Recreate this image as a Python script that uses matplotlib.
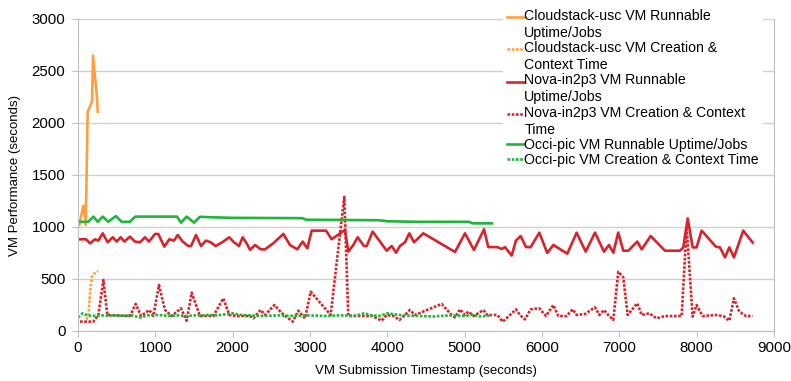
import matplotlib
matplotlib.use("Agg")
import matplotlib.pyplot as plt
from matplotlib.legend_handler import HandlerLine2D

plt.rcParams['font.family'] = ['Liberation Sans', 'DejaVu Sans']

# Cloudstack-usc
cs_run_x = [17, 69, 100, 125, 181, 194, 245, 255]
cs_run_y = [1019, 1205, 1020, 2108, 2205, 2647, 2253, 2108]
cs_cre_x = [110, 135, 160, 181, 205, 235, 262]
cs_cre_y = [110, 150, 400, 522, 550, 565, 577]

# Nova-in2p3
nv_run_x = [26, 103, 155, 220, 263, 319, 384, 449, 500, 552, 599, 672, 737, 802, 866, 918,
            996, 1038, 1116, 1181, 1241, 1289, 1354, 1426, 1461, 1526, 1590, 1655, 1716, 1780,
            1879, 1956, 2017, 2082, 2129, 2181, 2224, 2289, 2362, 2418, 2525, 2655, 2741, 2836,
            2905, 2965, 3022, 3207, 3280, 3378, 3452, 3495, 3560, 3616, 3698, 3733, 3810, 3905,
            3991, 4056, 4112, 4163, 4228, 4284, 4345, 4465, 4875, 5004, 5120, 5250, 5305, 5422,
            5479, 5521, 5608, 5663, 5724, 5793, 5853, 5965, 6068, 6146, 6327, 6448, 6565, 6685,
            6801, 6866, 6922, 6986, 7051, 7116, 7232, 7289, 7405, 7590, 7784, 7827, 7884, 7948,
            7999, 8064, 8249, 8301, 8366, 8422, 8482, 8602, 8724]
nv_run_y = [882, 882, 843, 882, 869, 939, 853, 901, 860, 901, 860, 907, 860, 853, 901, 860,
            933, 933, 811, 882, 869, 923, 860, 817, 817, 923, 817, 869, 853, 817,
            860, 901, 853, 817, 901, 843, 780, 827, 785, 785, 843, 933, 827, 785,
            860, 795, 965, 965, 882, 933, 972, 763, 827, 901, 817, 817, 955, 860,
            772, 817, 753, 817, 853, 939, 853, 939, 760, 939, 779, 978, 807, 807,
            788, 807, 725, 869, 913, 807, 807, 945, 750, 827, 744, 945, 763, 946,
            763, 827, 753, 946, 772, 772, 860, 785, 913, 772, 772, 804, 1083, 804,
            804, 965, 811, 804, 708, 804, 708, 965, 850]
nv_cre_x = [26, 198, 263, 328, 379, 672, 746, 815, 922, 974, 1047, 1125, 1211, 1332, 1405,
            1470, 1577, 1750, 1879, 1956, 2051, 2224, 2267, 2362, 2418, 2539, 2634, 2776, 2849,
            2935, 3009, 3267, 3443, 3495, 3616, 3810, 3926, 3991, 4082, 4155, 4228, 4293, 4357,
            4702, 4832, 4875, 4939, 5004, 5047, 5120, 5241, 5292, 5422, 5491, 5564, 5663, 5715,
            5780, 5853, 5965, 6051, 6146, 6211, 6318, 6396, 6448, 6556, 6685, 6741, 6801, 6857,
            6922, 6986, 7051, 7107, 7232, 7289, 7387, 7483, 7590, 7806, 7870, 7948, 7999, 8077,
            8236, 8344, 8422, 8482, 8551, 8637, 8724]
nv_cre_y = [90, 90, 154, 490, 154, 144, 260, 144, 202, 144, 442, 202, 144, 218, 99,
            368, 144, 144, 314, 154, 144, 144, 122, 202, 154, 250, 173, 90, 195,
            122, 378, 154, 1290, 144, 144, 144, 99, 154, 144, 106, 154, 202, 154,
            260, 154, 131, 208, 154, 186, 144, 202, 154, 154, 90, 138, 208, 154,
            112, 208, 218, 144, 250, 144, 144, 208, 154, 163, 228, 154, 202, 154,
            106, 570, 516, 154, 266, 154, 170, 122, 144, 144, 1000, 138, 250, 144,
            154, 144, 99, 314, 186, 144, 144]

# Occi-pic
oc_run_x = [0, 130, 200, 255, 320, 390, 490, 565, 670, 740, 1280, 1332, 1405, 1500, 1577,
            1750, 2000, 2900, 2950, 3900, 4000, 4400, 5050, 5110, 5350]
oc_run_y = [1050, 1050, 1100, 1050, 1100, 1050, 1105, 1050, 1050, 1100, 1100, 1042, 1100,
            1042, 1098, 1093, 1088, 1085, 1070, 1065, 1055, 1050, 1050, 1035, 1035]
oc_cre_x = [0, 60, 120, 200, 300, 400, 500, 600, 700, 800, 900, 1000, 1100, 1200, 1300,
            1400, 1500, 1600, 1700, 1800, 1900, 2000, 2100, 2200, 2400, 2600, 2800, 3000,
            3200, 3400, 3600, 3700, 3800, 3900, 4000, 4200, 4400, 4600, 4800, 5000, 5100,
            5200, 5350]
oc_cre_y = [130, 170, 150, 145, 150, 148, 150, 145, 150, 130, 150, 155, 150, 145, 150,
            145, 150, 150, 155, 150, 160, 170, 155, 150, 145, 150, 145, 150,
            145, 150, 148, 170, 150, 145, 170, 150, 145, 140, 150, 145, 155,
            140, 150]

labels = ["Cloudstack-usc VM Runnable\nUptime/Jobs",
          "Cloudstack-usc VM Creation &\nContext Time",
          "Nova-in2p3 VM Runnable\nUptime/Jobs",
          "Nova-in2p3 VM Creation & Context\nTime",
          "Occi-pic VM Runnable Uptime/Jobs",
          "Occi-pic VM Creation & Context Time"]

ORANGE = '#ffa040'
RED = '#d8232a'
GREEN = '#1db53a'


class TopHandler(HandlerLine2D):
    """Place the legend handle at the first line of a multi-line label."""
    def __init__(self, nlines, **kw):
        super().__init__(**kw)
        self.nlines = nlines

    def create_artists(self, legend, orig_handle, xdescent, ydescent, width, height,
                       fontsize, trans):
        shift = (self.nlines - 1) * fontsize * 1.12
        return super().create_artists(legend, orig_handle, xdescent, ydescent - shift,
                                      width, height, fontsize, trans)


fig = plt.figure(figsize=(7.91, 3.81), dpi=100)
ax = fig.add_axes([78/791, 1 - 331/381, (774 - 78)/791, (331 - 19)/381])

lw = 1.9
dot = (0, (1, 0.6))
lines = []
lines += ax.plot(cs_run_x, cs_run_y, color=ORANGE, lw=lw, label=labels[0])
lines += ax.plot(cs_cre_x, cs_cre_y, color=ORANGE, lw=lw, ls=dot, label=labels[1])
lines += ax.plot(nv_run_x, nv_run_y, color=RED, lw=lw, label=labels[2])
lines += ax.plot(nv_cre_x, nv_cre_y, color=RED, lw=lw, ls=dot, label=labels[3])
lines += ax.plot(oc_run_x, oc_run_y, color=GREEN, lw=lw, label=labels[4])
lines += ax.plot(oc_cre_x, oc_cre_y, color=GREEN, lw=lw, ls=dot, label=labels[5])

ax.set_xlim(0, 9000)
ax.set_ylim(0, 3000)
ax.set_xticks(range(0, 9001, 1000))
ax.set_yticks(range(0, 3001, 500))
ax.yaxis.grid(True, color='#d0d0d0', lw=1)
ax.set_axisbelow(True)
for s in ['left', 'bottom', 'right']:
    ax.spines[s].set_color('#c0c0c0')
ax.spines['top'].set_visible(False)
ax.tick_params(axis='both', colors='#c0c0c0', labelcolor='black', labelsize=10.8, length=4)
ax.tick_params(axis='y', pad=5)

ax.set_xlabel("VM Submission Timestamp (seconds)", fontsize=9.5, labelpad=7)
ax.set_ylabel("VM Performance (seconds)", fontsize=9.5, labelpad=8)

hmap = {ln: TopHandler(lab.count("\n") + 1) for ln, lab in zip(lines, labels)}
leg = ax.legend(handles=lines, handler_map=hmap,
                loc='upper left', bbox_to_anchor=(503/791, 1 - 5/381),
                bbox_transform=fig.transFigure, fontsize=10.2, frameon=True,
                framealpha=1, facecolor='white', edgecolor='none', fancybox=False,
                handlelength=1.15, handletextpad=0.05, labelspacing=0.08,
                borderpad=0.3, borderaxespad=0)
for t in leg.get_texts():
    t.set_linespacing(1.27)

fig.savefig("out.png", dpi=100)
